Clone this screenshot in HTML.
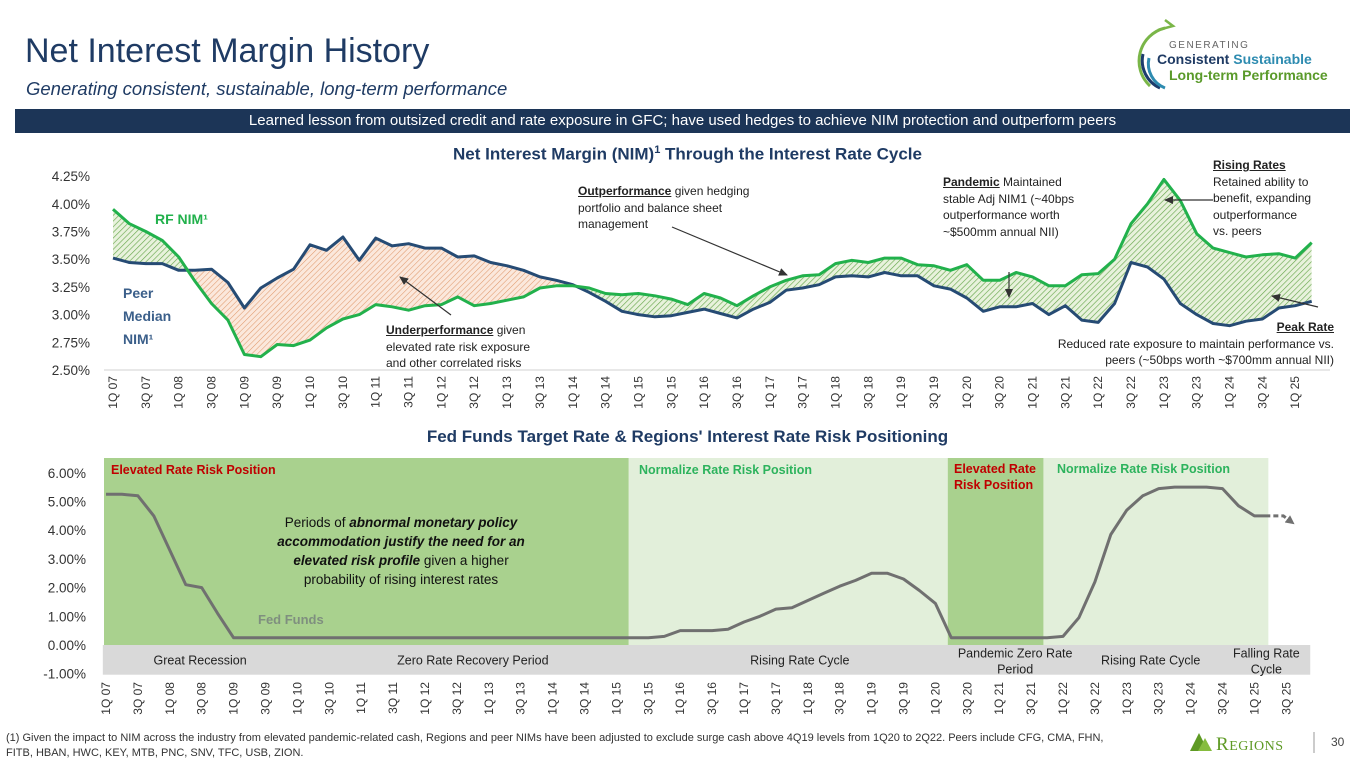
<!DOCTYPE html>
<html><head><meta charset="utf-8">
<style>
html,body{margin:0;padding:0;background:#fff;}
body{width:1365px;height:768px;position:relative;overflow:hidden;font-family:"Liberation Sans",sans-serif;}
.t{position:absolute;white-space:nowrap;}
</style></head>
<body>
<div class="t" style="left:25px;top:32px;font-size:34px;color:#1f3b64;">Net Interest Margin History</div>
<div class="t" style="left:26px;top:78px;font-size:18.5px;font-style:italic;color:#1f3b64;">Generating consistent, sustainable, long-term performance</div>

<svg style="position:absolute;left:1125px;top:18px" width="230" height="72">
 <path d="M40 10 A34 34 0 0 0 25 68" fill="none" stroke="#7ab648" stroke-width="3"/>
 <path d="M33 12 L48 8 L40 2" fill="none" stroke="#7ab648" stroke-width="2.5"/>
 <path d="M18 36 A30 30 0 0 0 35 70" fill="none" stroke="#1c3c6c" stroke-width="3"/>
 <path d="M24 40 A26 26 0 0 0 40 70" fill="none" stroke="#2d8bb0" stroke-width="3"/>
 <text x="44" y="30" font-size="10" fill="#666" letter-spacing="1.5" font-family="Liberation Sans">GENERATING</text>
 <text x="32" y="46" font-size="14" font-weight="bold" fill="#1f3b64" font-family="Liberation Sans">Consistent <tspan fill="#2d8bb0">Sustainable</tspan></text>
 <text x="44" y="62" font-size="14" font-weight="bold" fill="#5a9a2a" font-family="Liberation Sans">Long-term Performance</text>
</svg>

<div class="t" style="left:15px;top:109px;width:1335px;height:24px;background:#1c3557;color:#fff;font-size:15px;line-height:24px;text-align:center;">Learned lesson from outsized credit and rate exposure in GFC; have used hedges to achieve NIM protection and outperform peers</div>

<div class="t" style="left:0;width:1375px;top:144px;text-align:center;font-size:17px;font-weight:bold;color:#1f3b64;">Net Interest Margin (NIM)<sup style="font-size:11px">1</sup> Through the Interest Rate Cycle</div>
<div class="t" style="left:0;width:1375px;top:427px;text-align:center;font-size:17px;font-weight:bold;color:#1f3b64;">Fed Funds Target Rate &amp; Regions' Interest Rate Risk Positioning</div>

<svg id="nim" style="position:absolute;left:0;top:0" width="1365" height="768">
 <defs>
  <pattern id="hg" patternUnits="userSpaceOnUse" width="4" height="4" patternTransform="rotate(45)"><rect width="4" height="4" fill="#e8f2dc"/><line x1="0" y1="0" x2="0" y2="4" stroke="#6aa84f" stroke-width="1.3"/></pattern>
  <pattern id="ho" patternUnits="userSpaceOnUse" width="4" height="4" patternTransform="rotate(45)"><rect width="4" height="4" fill="#fbe8dc"/><line x1="0" y1="0" x2="0" y2="4" stroke="#e09a6e" stroke-width="1.1"/></pattern>
  <marker id="ar" markerUnits="userSpaceOnUse" markerWidth="9" markerHeight="8" refX="8" refY="4" orient="auto"><path d="M0,0 L9,4 L0,8 z" fill="#333"/></marker>
  <marker id="ag" markerUnits="userSpaceOnUse" markerWidth="9" markerHeight="9" refX="5" refY="4.5" orient="auto"><path d="M0,0 L9,4.5 L0,9 z" fill="#707070"/></marker>
  <clipPath id="abovePeer"><path id="cpPeer"/></clipPath>
  <clipPath id="aboveRf"><path id="cpRf"/></clipPath>
 </defs>
 <g id="nimG"></g>
 <g id="fedG"></g>
</svg>

<div class="t" style="left:155px;top:211px;font-size:14px;font-weight:bold;color:#22b14c;">RF NIM¹</div>
<div class="t" style="left:123px;top:282px;font-size:14px;font-weight:bold;color:#3b5f8a;line-height:23px;">Peer<br>Median<br>NIM¹</div>
<div class="t" style="left:386px;top:322px;font-size:12px;color:#222;line-height:16.5px;"><b><u>Underperformance</u></b> given<br>elevated rate risk exposure<br>and other correlated risks</div>
<div class="t" style="left:578px;top:183px;font-size:12px;color:#222;line-height:16.5px;"><b><u>Outperformance</u></b> given hedging<br>portfolio and balance sheet<br>management</div>
<div class="t" style="left:943px;top:174px;font-size:12px;color:#222;line-height:16.5px;"><b><u>Pandemic</u></b> Maintained<br>stable Adj NIM1 (~40bps<br>outperformance worth<br>~$500mm annual NII)</div>
<div class="t" style="left:1213px;top:157px;font-size:12px;color:#222;line-height:16.5px;"><b><u>Rising Rates </u></b><br>Retained ability to<br>benefit, expanding<br>outperformance<br>vs. peers</div>
<div class="t" style="right:31px;top:319px;font-size:12px;color:#222;line-height:16.5px;text-align:right;"><b><u>Peak Rate </u></b><br>Reduced rate exposure to maintain performance vs.<br>peers (~50bps worth ~$700mm annual NII)</div>

<div class="t" style="left:111px;top:463px;font-size:12.5px;font-weight:bold;color:#c00000;">Elevated Rate Risk Position</div>
<div class="t" style="left:639px;top:463px;font-size:12.5px;font-weight:bold;color:#2db35d;">Normalize Rate Risk Position</div>
<div class="t" style="left:954px;top:461px;font-size:12.5px;font-weight:bold;color:#c00000;line-height:16px;">Elevated Rate<br>Risk Position</div>
<div class="t" style="left:1057px;top:462px;font-size:12.5px;font-weight:bold;color:#2db35d;">Normalize Rate Risk Position</div>
<div class="t" style="left:262px;width:278px;top:513px;font-size:13.5px;color:#111;line-height:19px;text-align:center;white-space:normal;">Periods of <b><i>abnormal monetary policy accommodation justify the need for an elevated risk profile</i></b> given a higher probability of rising interest rates</div>
<div class="t" style="left:258px;top:612px;font-size:13px;font-weight:bold;color:#7f8f7f;">Fed Funds</div>

<div class="t" style="left:6px;top:731px;font-size:11px;color:#333;line-height:15px;">(1) Given the impact to NIM across the industry from elevated pandemic-related cash, Regions and peer NIMs have been adjusted to exclude surge cash above 4Q19 levels from 1Q20 to 2Q22. Peers include CFG, CMA, FHN,<br>FITB, HBAN, HWC, KEY, MTB, PNC, SNV, TFC, USB, ZION.</div>
<svg style="position:absolute;left:1188px;top:729px" width="175" height="26">
 <path d="M2 22 L11 4 L20 22 Z" fill="#5e9a24"/><path d="M10 22 L17 9 L24 22 Z" fill="#86bc3e"/>
 <text x="28" y="21" font-size="19" fill="#5e9a24" font-family="Liberation Serif" letter-spacing="0.5">R<tspan font-size="14">EGIONS</tspan></text>
 <line x1="126" y1="3" x2="126" y2="24" stroke="#999"/>
 <text x="143" y="17" font-size="12" fill="#444" font-family="Liberation Sans">30</text>
</svg>

<script>
const nimQuarters = [];
(function(){for(let y=7;y<=25;y++){for(let q=1;q<=4;q++){if(y===25&&q>2)break;nimQuarters.push(q+'Q '+(y<10?'0'+y:y));}}})();
const rfNim = [3.95,3.82,3.75,3.67,3.52,3.30,3.10,2.95,2.64,2.62,2.73,2.72,2.77,2.88,2.96,3.00,3.09,3.07,3.04,3.08,3.09,3.16,3.08,3.10,3.13,3.16,3.24,3.26,3.26,3.24,3.19,3.18,3.19,3.17,3.14,3.09,3.19,3.15,3.08,3.17,3.25,3.31,3.35,3.36,3.46,3.49,3.47,3.51,3.51,3.45,3.44,3.40,3.45,3.31,3.31,3.38,3.34,3.26,3.26,3.36,3.37,3.50,3.82,4.00,4.22,4.03,3.73,3.60,3.56,3.52,3.54,3.55,3.51,3.65];
const peerNim = [3.51,3.47,3.46,3.46,3.40,3.40,3.41,3.29,3.06,3.24,3.33,3.41,3.63,3.58,3.70,3.49,3.69,3.62,3.64,3.60,3.60,3.52,3.53,3.47,3.44,3.40,3.34,3.31,3.27,3.20,3.12,3.03,3.00,2.98,2.99,3.02,3.05,3.01,2.97,3.05,3.11,3.22,3.24,3.27,3.34,3.35,3.34,3.38,3.35,3.35,3.26,3.23,3.15,3.03,3.07,3.07,3.10,3.00,3.08,2.95,2.93,3.10,3.47,3.43,3.32,3.10,3.00,2.92,2.90,2.94,2.96,3.06,3.08,3.12];
const nimTicks = [2.50,2.75,3.00,3.25,3.50,3.75,4.00,4.25];
const fedQuarters = [];
(function(){for(let y=7;y<=25;y++){for(let q=1;q<=4;q++){fedQuarters.push(q+'Q '+(y<10?'0'+y:y));}}})();
const fedFunds = [5.25,5.25,5.2,4.5,3.3,2.1,2.0,1.1,0.25,0.25,0.25,0.25,0.25,0.25,0.25,0.25,0.25,0.25,0.25,0.25,0.25,0.25,0.25,0.25,0.25,0.25,0.25,0.25,0.25,0.25,0.25,0.25,0.25,0.25,0.25,0.3,0.5,0.5,0.5,0.55,0.8,1.0,1.25,1.3,1.55,1.8,2.05,2.25,2.5,2.5,2.3,1.9,1.45,0.25,0.25,0.25,0.25,0.25,0.25,0.25,0.3,0.95,2.2,3.85,4.7,5.2,5.45,5.5,5.5,5.5,5.45,4.85,4.5,4.5];
const fedTicks = [-1,0,1,2,3,4,5,6];
const riskPeriods = [{s:0,e:32.9,t:'elevated'},{s:32.9,e:52.9,t:'normalize'},{s:52.9,e:58.9,t:'elevated'},{s:58.9,e:73.0,t:'normalize'}];
const cyclePeriods = [{s:-0.2,e:12,l:['Great Recession']},{s:12,e:34,l:['Zero Rate Recovery Period']},{s:34,e:53,l:['Rising Rate Cycle']},{s:53,e:61,l:['Pandemic Zero Rate','Period']},{s:61,e:70,l:['Rising Rate Cycle']},{s:70,e:75.5,l:['Falling Rate','Cycle']}];

const NS='http://www.w3.org/2000/svg';
function mk(tag,attrs,parent){const e=document.createElementNS(NS,tag);for(const k in attrs)e.setAttribute(k,attrs[k]);parent.appendChild(e);return e;}
const nx = i => 113 + i*16.42;
const ny = v => 370 - (v-2.5)/0.25*27.7;
const fx = i => 106 + i*15.95;
const fy = v => 645 - v*28.7;

const g = document.getElementById('nimG');
nimTicks.forEach(v=>{
  const t=mk('text',{x:90,y:ny(v)+5,'text-anchor':'end','font-size':13.5,fill:'#333','font-family':'Liberation Sans'},g);
  t.textContent=v.toFixed(2)+'%';
  
  
});
const axis=mk('line',{x1:104,x2:1330,y1:370,y2:370,stroke:'#d0d0d0','stroke-width':1},g);


nimQuarters.forEach((q,i)=>{
  if(i%2) return;
  const t=mk('text',{transform:`translate(${nx(i)+4},376) rotate(-90)`,'text-anchor':'end','font-size':12,fill:'#333','font-family':'Liberation Sans'},g);
  t.textContent=q;
  
  
});
const rfPts=rfNim.map((v,i)=>[nx(i),ny(v)]), pPts=peerNim.map((v,i)=>[nx(i),ny(v)]);
const ln=p=>p.map((q,i)=>(i?'L':'M')+q[0].toFixed(1)+' '+q[1].toFixed(1)).join(' ');
const x0=nx(0), x1=nx(rfNim.length-1);
document.getElementById('cpPeer').setAttribute('d', ln(pPts)+` L${x1} 150 L${x0} 150 Z`);
document.getElementById('cpRf').setAttribute('d', ln(rfPts)+` L${x1} 150 L${x0} 150 Z`);
const ga=mk('path',{d:ln(rfPts)+` L${x1} 380 L${x0} 380 Z`,fill:'url(#hg)','clip-path':'url(#abovePeer)'},g);


const oa=mk('path',{d:ln(pPts)+` L${x1} 380 L${x0} 380 Z`,fill:'url(#ho)','clip-path':'url(#aboveRf)'},g);


const pl=mk('path',{d:ln(pPts),fill:'none',stroke:'#264b74','stroke-width':3,'stroke-linejoin':'round'},g);


const rl=mk('path',{d:ln(rfPts),fill:'none',stroke:'#22b14c','stroke-width':3,'stroke-linejoin':'round'},g);


[[451,315,400,277],[672,227,787,275],[1009,272,1009,297],[1213,200,1165,200],[1318,307,1272,296]].forEach(a=>{
  const l=mk('line',{x1:a[0],y1:a[1],x2:a[2],y2:a[3],stroke:'#333','stroke-width':1.2,'marker-end':'url(#ar)'},g);
  
  
});

const f=document.getElementById('fedG');
riskPeriods.forEach(p=>{
  const r=mk('rect',{x:fx(p.s)-2,y:458,width:fx(p.e)-fx(p.s),height:fy(0)-458,fill:p.t==='elevated'?'#a9d18e':'#e2efda'},f);
  
  
});
const band=mk('rect',{x:fx(-0.2),y:fy(0),width:fx(75.5)-fx(-0.2),height:fy(-1)-fy(0)+1,fill:'#d9d9d9'},f);


cyclePeriods.forEach(c=>{
  const cx=(fx(c.s)+fx(c.e))/2;
  c.l.forEach((s,k)=>{
    const t=mk('text',{x:cx,y:(c.l.length===1?fy(-0.5)+5:fy(-0.5)-2+k*16),'text-anchor':'middle','font-size':12.5,fill:'#222','font-family':'Liberation Sans'},f);
    t.textContent=s;
    
    
  });
});
fedTicks.forEach(v=>{
  const t=mk('text',{x:86,y:fy(v)+5,'text-anchor':'end','font-size':13.5,fill:'#333','font-family':'Liberation Sans'},f);
  t.textContent=v.toFixed(2)+'%';
  
  
});
fedQuarters.forEach((q,i)=>{
  if(i%2) return;
  const t=mk('text',{transform:`translate(${fx(i)+4},682) rotate(-90)`,'text-anchor':'end','font-size':12,fill:'#333','font-family':'Liberation Sans'},f);
  t.textContent=q;
  
  
});
const fPts=fedFunds.map((v,i)=>[fx(i),fy(v)]);
const fl=mk('path',{d:ln(fPts),fill:'none',stroke:'#707070','stroke-width':3,'stroke-linejoin':'round'},f);


const last=fPts[fPts.length-1];
const fa=mk('path',{d:`M${last[0]+3} ${last[1]} L${last[0]+13} ${last[1]} L${last[0]+21} ${last[1]+6}`,fill:'none',stroke:'#707070','stroke-width':3,'stroke-dasharray':'5 3','marker-end':'url(#ag)'},f);


</script>
</body></html>
